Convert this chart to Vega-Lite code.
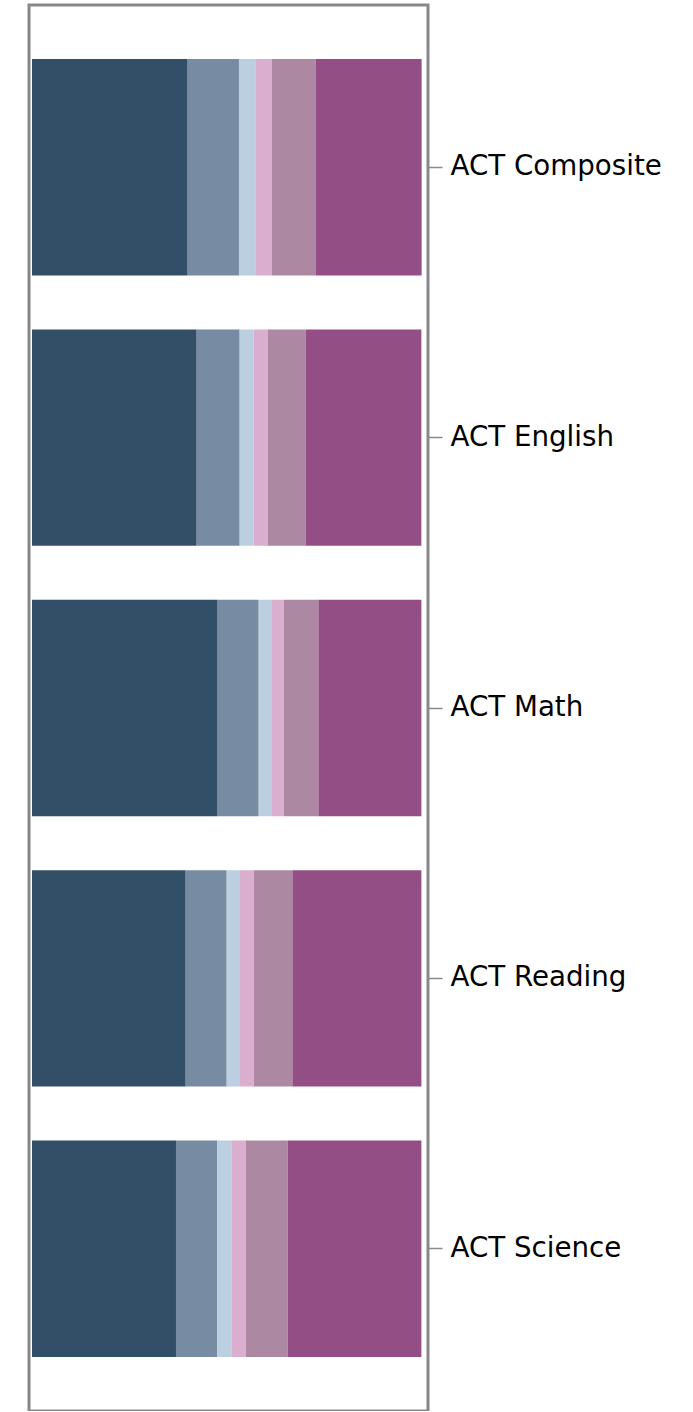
{
  "$schema": "https://vega.github.io/schema/vega-lite/v6.json",
  "width": 399,
  "height": 1406,
  "padding": {"left": 29, "top": 5, "right": 0, "bottom": 0},
  "background": "#ffffff",
  "config": {
    "view": {"stroke": "#888888", "strokeWidth": 3},
    "font": "DejaVu Sans"
  },
  "data": {
    "values": [
      {"test": "ACT Composite", "level": "s1", "k": 1, "pct": 39.95},
      {"test": "ACT Composite", "level": "s2", "k": 2, "pct": 13.16},
      {"test": "ACT Composite", "level": "s3", "k": 3, "pct": 4.36},
      {"test": "ACT Composite", "level": "s4", "k": 4, "pct": 4.10},
      {"test": "ACT Composite", "level": "s5", "k": 5, "pct": 11.29},
      {"test": "ACT Composite", "level": "s6", "k": 6, "pct": 27.12},
      {"test": "ACT English", "level": "s1", "k": 1, "pct": 42.26},
      {"test": "ACT English", "level": "s2", "k": 2, "pct": 11.03},
      {"test": "ACT English", "level": "s3", "k": 3, "pct": 3.59},
      {"test": "ACT English", "level": "s4", "k": 4, "pct": 3.59},
      {"test": "ACT English", "level": "s5", "k": 5, "pct": 9.75},
      {"test": "ACT English", "level": "s6", "k": 6, "pct": 29.69},
      {"test": "ACT Math", "level": "s1", "k": 1, "pct": 47.65},
      {"test": "ACT Math", "level": "s2", "k": 2, "pct": 10.52},
      {"test": "ACT Math", "level": "s3", "k": 3, "pct": 3.41},
      {"test": "ACT Math", "level": "s4", "k": 4, "pct": 3.08},
      {"test": "ACT Math", "level": "s5", "k": 5, "pct": 8.83},
      {"test": "ACT Math", "level": "s6", "k": 6, "pct": 26.43},
      {"test": "ACT Reading", "level": "s1", "k": 1, "pct": 39.44},
      {"test": "ACT Reading", "level": "s2", "k": 2, "pct": 10.52},
      {"test": "ACT Reading", "level": "s3", "k": 3, "pct": 3.41},
      {"test": "ACT Reading", "level": "s4", "k": 4, "pct": 3.52},
      {"test": "ACT Reading", "level": "s5", "k": 5, "pct": 9.93},
      {"test": "ACT Reading", "level": "s6", "k": 6, "pct": 33.10},
      {"test": "ACT Science", "level": "s1", "k": 1, "pct": 36.95},
      {"test": "ACT Science", "level": "s2", "k": 2, "pct": 10.62},
      {"test": "ACT Science", "level": "s3", "k": 3, "pct": 3.59},
      {"test": "ACT Science", "level": "s4", "k": 4, "pct": 3.67},
      {"test": "ACT Science", "level": "s5", "k": 5, "pct": 10.78},
      {"test": "ACT Science", "level": "s6", "k": 6, "pct": 34.31}
    ]
  },
  "mark": {"type": "bar"},
  "encoding": {
    "y": {
      "field": "test",
      "type": "nominal",
      "sort": null,
      "scale": {"paddingInner": 0.2, "paddingOuter": 0.2},
      "axis": {
        "orient": "right",
        "title": null,
        "domain": false,
        "ticks": true,
        "tickSize": 14,
        "tickColor": "#888888",
        "tickWidth": 1.5,
        "labelPadding": 8,
        "labelFontSize": 27.7,
        "labelFont": "DejaVu Sans",
        "labelColor": "#000000",
        "labelLimit": 400
      }
    },
    "x": {
      "field": "pct",
      "type": "quantitative",
      "stack": "zero",
      "scale": {"domain": [-0.77, 101.62], "nice": false, "zero": false},
      "axis": null
    },
    "color": {
      "field": "level",
      "type": "nominal",
      "scale": {
        "domain": ["s1", "s2", "s3", "s4", "s5", "s6"],
        "range": ["#334f68", "#778ca3", "#bccfe1", "#d9aecf", "#ad88a3", "#934f85"]
      },
      "legend": null
    },
    "order": {"field": "k", "type": "quantitative"}
  }
}
